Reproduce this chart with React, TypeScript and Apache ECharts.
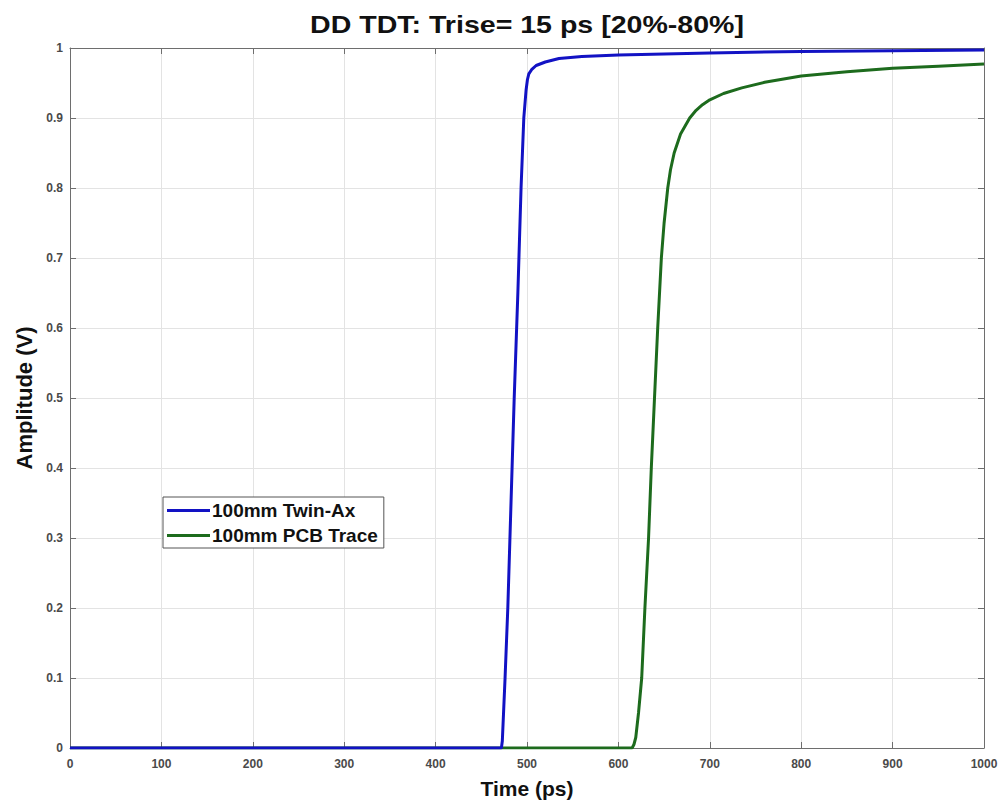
import React, { useEffect, useRef } from "react";
import * as echarts from "echarts";

const titleText = "DD TDT: Trise= 15 ps [20%-80%]";
const xName = "Time (ps)";
const yName = "Amplitude (V)";
const seriesNames = ["100mm Twin-Ax", "100mm PCB Trace"];
const seriesColors = ["#1212c4", "#1d6b1d"];

const twinAx: [number, number][] = [
  [0, 0], [472, 0], [473, 0.01], [476, 0.1], [479, 0.2], [482.5, 0.35], [486, 0.5],
  [490, 0.65], [493.5, 0.8], [496.5, 0.9], [499, 0.94], [500.5, 0.955], [502, 0.963],
  [505, 0.969], [510, 0.975], [520, 0.98], [535, 0.985], [560, 0.988], [600, 0.99],
  [700, 0.993], [800, 0.995], [900, 0.996], [1000, 0.997],
];

const pcbTrace: [number, number][] = [
  [0, 0], [615, 0], [617, 0.005], [619, 0.015], [622, 0.05], [625.5, 0.1], [629, 0.2],
  [633, 0.3], [636, 0.4], [639.5, 0.5], [643, 0.6], [647, 0.7], [650, 0.75], [654, 0.8],
  [657, 0.826], [661, 0.85], [668, 0.877], [678, 0.9], [685, 0.911], [692, 0.919],
  [700, 0.926], [715, 0.935], [735, 0.943], [760, 0.951], [800, 0.96], [850, 0.966],
  [900, 0.971], [950, 0.974], [1000, 0.977],
];

const axisGray = "#6e6e6e";
const gridGray = "#e3e3e3";
const FONT = "Liberation Sans, Arial, sans-serif";
const labelStyle = { fontSize: 12, fontWeight: "bold" as const, color: "#4a4a4a", fontFamily: FONT };

export default function App() {
  const ref = useRef<HTMLDivElement>(null);
  useEffect(() => {
    if (!ref.current) return;
    const chart = echarts.init(ref.current, undefined, { renderer: "svg" });
    const commonX = {
      type: "value" as const,
      min: 0,
      max: 1000,
      interval: 100,
      axisLine: { show: true, onZero: false, lineStyle: { color: axisGray, width: 1 } },
      axisTick: { show: true, inside: true, length: 6, lineStyle: { color: axisGray } },
    };
    const commonY = {
      type: "value" as const,
      min: 0,
      max: 1,
      interval: 0.1,
      axisLine: { show: true, onZero: false, lineStyle: { color: axisGray, width: 1 } },
      axisTick: { show: true, inside: true, length: 6, lineStyle: { color: axisGray } },
    };
    chart.setOption({
      animation: false,
      backgroundColor: "#ffffff",
      graphic: [
        {
          type: "text",
          x: 527,
          y: 25,
          scaleX: 1.19,
          style: {
            text: titleText,
            align: "center",
            verticalAlign: "middle",
            fontSize: 24,
            fontWeight: "bold",
            fontFamily: FONT,
            fill: "#111",
          },
        },
      ],
      grid: { left: 70, right: 18, top: 48, bottom: 55, containLabel: false },
      legend: {
        left: 163,
        top: 497,
        orient: "vertical",
        data: seriesNames,
        icon: "rect",
        itemWidth: 43,
        itemHeight: 3,
        itemGap: 6,
        padding: [4, 6, 3, 4],
        backgroundColor: "#ffffff",
        borderColor: "#555",
        borderWidth: 1,
        borderRadius: 0,
        textStyle: { fontSize: 19, fontWeight: "bold", color: "#111", fontFamily: FONT, padding: [0, 0, 0, -3] },
      },
      xAxis: [
        {
          ...commonX,
          position: "bottom",
          name: xName,
          nameLocation: "middle",
          nameGap: 30,
          nameTextStyle: { fontSize: 21, fontWeight: "bold", color: "#111", fontFamily: FONT },
          axisLabel: { ...labelStyle, margin: 10, formatter: (v: number) => String(v) },
          splitLine: { show: true, lineStyle: { color: gridGray, width: 1 } },
        },
        {
          ...commonX,
          position: "top",
          axisLabel: { show: false },
          splitLine: { show: false },
        },
      ],
      yAxis: [
        {
          ...commonY,
          position: "left",
          name: yName,
          nameLocation: "middle",
          nameGap: 30,
          nameTextStyle: { fontSize: 22, fontWeight: "bold", color: "#111", fontFamily: FONT },
          axisLabel: { ...labelStyle, margin: 7, formatter: (v: number) => String(Math.round(v * 10) / 10) },
          splitLine: { show: true, lineStyle: { color: gridGray, width: 1 } },
        },
        {
          ...commonY,
          position: "right",
          axisLabel: { show: false },
          splitLine: { show: false },
        },
      ],
      series: [
        {
          name: seriesNames[1],
          type: "line",
          data: pcbTrace,
          symbol: "none",
          smooth: false,
          lineStyle: { color: seriesColors[1], width: 3 },
          itemStyle: { color: seriesColors[1] },
          z: 3,
        },
        {
          name: seriesNames[0],
          type: "line",
          data: twinAx,
          symbol: "none",
          smooth: false,
          lineStyle: { color: seriesColors[0], width: 3 },
          itemStyle: { color: seriesColors[0] },
          z: 4,
        },
      ],
    });
    return () => chart.dispose();
  }, []);
  return <div ref={ref} style={{ width: 1002, height: 804, position: "absolute", left: 0, top: 0 }} />;
}
